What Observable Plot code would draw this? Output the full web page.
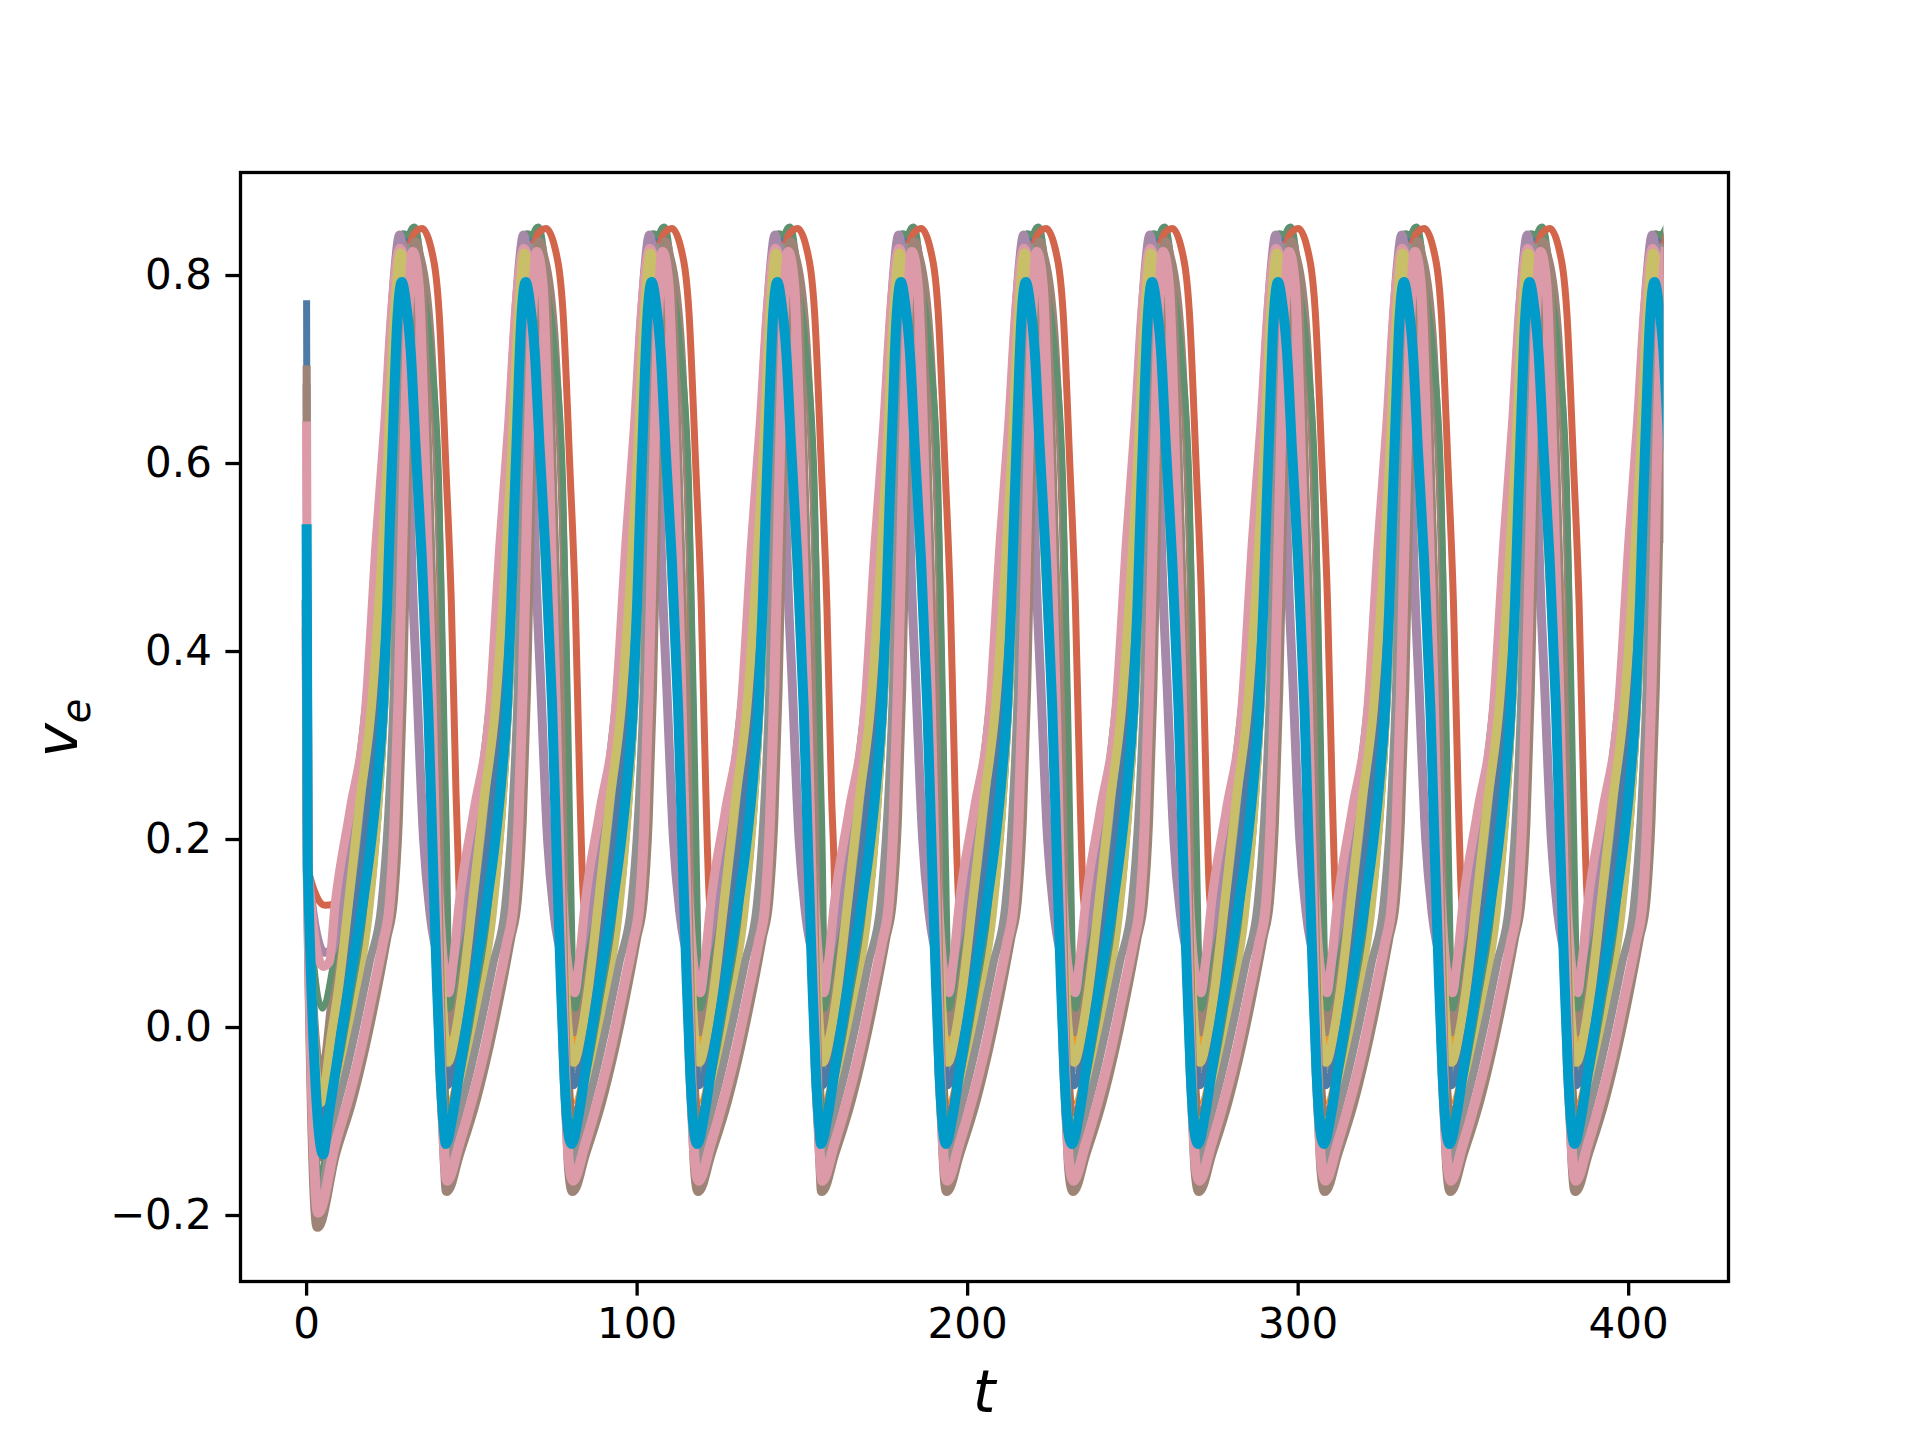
<!DOCTYPE html>
<html>
<head>
<meta charset="utf-8">
<script src="https://cdn.jsdelivr.net/npm/d3@7"></script>
<script src="https://cdn.jsdelivr.net/npm/@observablehq/plot@0.6"></script>
<style>
  html, body { margin: 0; padding: 0; background: #ffffff; }
  #chart { width: 1920px; height: 1440px; }
</style>
</head>
<body>
<div id="chart"></div>
<script>
// ---- data ----
// times of the cycle minima (start of each oscillation cycle)
const cycleStarts = [4.6, 42.1, 80.2, 118.2, 155.6, 193.4, 231.6, 269.7, 307.8, 345.8, 383.6];
const tEnd = 410.5;
const xTicks = [0, 100, 200, 300, 400];
const yTicks = [-0.2, 0.0, 0.2, 0.4, 0.6, 0.8];

// one cycle of each series: [time after cycle start, v_e]
const blueThinCycle    = [[0.4,-0.11],[4,-0.07],[8,-0.01],[12,0.07],[16,0.16],[19,0.3],[21.5,0.5],[23.5,0.7],[25.5,0.82],[27.5,0.84],[29.5,0.74],[31.5,0.55],[33.5,0.32],[35.5,0.08],[37,-0.07]];
const orangeThinCycle  = [[0.5,-0.08],[4,-0.03],[7.5,0.05],[11.5,0.16],[15.5,0.3],[18.5,0.45],[21,0.62],[23,0.76],[25,0.835],[27.5,0.8],[30.5,0.62],[33.5,0.36],[35.8,0.1],[37.3,-0.04]];
const redMidCycle      = [[0.5,-0.092],[3.5,-0.05],[6,0.0],[11,0.13],[14.5,0.25],[17,0.36],[19.5,0.52],[21.5,0.66],[23.5,0.78],[26,0.845],[28.5,0.82],[31,0.68],[33.5,0.45],[35.5,0.2],[37,0.0]];
const greenDeepCycle   = [[0.1,-0.133],[3,-0.09],[6.5,-0.03],[10,0.04],[14,0.13],[17,0.24],[19.5,0.38],[21.5,0.55],[23.5,0.72],[25.5,0.82],[27.9,0.851],[30,0.8],[32,0.62],[34,0.4],[35.5,0.17],[36.7,-0.02],[37.5,-0.11]];
const grayMidCycle     = [[0.6,-0.044],[3,-0.015],[5,0.03],[8.5,0.13],[12,0.23],[15.5,0.34],[18.5,0.5],[20.5,0.64],[22.5,0.77],[24.5,0.835],[27,0.82],[30,0.7],[33,0.48],[35.5,0.22],[37.3,0.02]];
const blueMidCycle     = [[0.6,-0.062],[3,-0.035],[5.5,0.01],[10,0.12],[13.5,0.22],[16.5,0.34],[19,0.5],[21,0.65],[23,0.78],[25.5,0.84],[28,0.81],[30.5,0.68],[33,0.45],[35.3,0.2],[37,0.01]];
const orangeMidCycle   = [[0.8,-0.021],[3,0.01],[5,0.06],[7.5,0.13],[11,0.23],[14.5,0.34],[17.5,0.5],[19.5,0.62],[21.5,0.76],[23.6,0.834],[26,0.81],[29,0.72],[32.5,0.55],[35.5,0.3],[37.4,0.06]];
const brownMidCycle    = [[0.8,-0.005],[3,0.03],[6.5,0.13],[10,0.23],[14,0.34],[17,0.48],[19,0.6],[21,0.72],[23.5,0.8],[27.5,0.835],[30.5,0.81],[33.5,0.7],[35.8,0.48],[37.3,0.17],[38.2,0.03]];
const greenShallowCycle= [[1,0.02],[3,0.06],[6,0.14],[10,0.25],[13.5,0.36],[16.5,0.5],[19,0.64],[21.5,0.78],[24.5,0.845],[27,0.84],[30,0.8],[33,0.72],[35.5,0.58],[37.2,0.3],[38.3,0.09]];
const redShallowCycle  = [[4.3,0.12],[6,0.135],[8,0.17],[11,0.25],[14,0.34],[17,0.46],[19.5,0.58],[22,0.7],[25,0.8],[28,0.845],[30.3,0.85],[33,0.83],[35.5,0.76],[37.5,0.6],[39.2,0.45],[40.6,0.25],[41.6,0.14]];
const oliveDeepCycle   = [[0.3,-0.14],[3.5,-0.095],[7,-0.04],[10.5,0.03],[14.5,0.12],[17.5,0.24],[20,0.4],[22,0.58],[23.8,0.75],[25.8,0.83],[27.8,0.8],[29.8,0.62],[31.8,0.4],[33.8,0.17],[35.5,-0.02],[36.8,-0.11]];
const grayDeepCycle    = [[0.3,-0.145],[3.5,-0.1],[7.5,-0.045],[11,0.01],[14.5,0.07],[18,0.13],[20,0.22],[21.8,0.36],[23.2,0.55],[24.6,0.74],[26.5,0.83],[28.3,0.79],[30.2,0.6],[32,0.38],[33.8,0.15],[35.5,-0.04],[36.8,-0.12]];
const pinkShallowCycle = [[0.9,0.037],[2.3,0.07],[4,0.13],[8.5,0.23],[13.3,0.34],[16.5,0.52],[19,0.64],[21.3,0.77],[23.6,0.829],[25.8,0.8],[27.8,0.7],[29.8,0.55],[32.2,0.38],[34.8,0.18],[36.8,0.07]];
const purpleCycle      = [[0.9,0.048],[2.8,0.08],[5.5,0.13],[9.5,0.23],[13.8,0.34],[16.5,0.46],[18.3,0.57],[20.5,0.72],[22.2,0.81],[23.5,0.843],[24.8,0.81],[26,0.68],[27,0.52],[28.8,0.36],[30.8,0.2],[32.8,0.12],[36,0.065]];
const oliveMidCycle    = [[0.6,-0.037],[3,-0.005],[5,0.04],[8,0.13],[11.5,0.24],[15,0.34],[17.8,0.48],[19.8,0.6],[22,0.76],[23.8,0.824],[25.8,0.78],[27.8,0.66],[30,0.5],[32.5,0.33],[35,0.15],[36.8,0.01]];
const brownDeepCycle   = [[0.3,-0.174],[4,-0.135],[9,-0.078],[13,-0.02],[16,0.03],[19.5,0.095],[21.5,0.135],[23,0.22],[24.3,0.36],[25.5,0.55],[26.8,0.74],[28.3,0.835],[30,0.8],[31.8,0.62],[33.5,0.4],[35,0.15],[36.3,-0.05],[37.3,-0.15]];
const pinkDeepCycle    = [[0.4,-0.163],[4,-0.125],[8.5,-0.07],[12,-0.02],[15,0.03],[18.5,0.09],[20.5,0.13],[22,0.22],[23.3,0.36],[24.6,0.55],[26,0.74],[27.5,0.825],[29.3,0.79],[31.2,0.6],[33,0.38],[34.6,0.15],[36,-0.04],[37.2,-0.14]];
const cyanCycle        = [[0,-0.124],[2,-0.095],[4,-0.05],[6,-0.005],[9,0.06],[12.3,0.13],[15,0.2],[17,0.27],[18.5,0.34],[19.8,0.45],[20.8,0.56],[21.8,0.66],[22.8,0.75],[24.2,0.793],[25.5,0.77],[26.9,0.72],[28.4,0.617],[30.3,0.497],[32.2,0.34],[33.6,0.18],[34.8,0.05],[35.9,-0.05],[37,-0.11]];

// drawing order: first listed is drawn first (bottom)
const seriesNames = ["blueThin","orangeThin","redMid","greenDeep","grayMid","blueMid","orangeMid","brownMid","greenShallow","redShallow","oliveDeep","grayDeep","purple","pinkShallow","oliveMid","brownDeep","pinkDeep","cyan"];
const seriesCycles = [blueThinCycle, orangeThinCycle, redMidCycle, greenDeepCycle, grayMidCycle, blueMidCycle, orangeMidCycle, brownMidCycle, greenShallowCycle, redShallowCycle, oliveDeepCycle, grayDeepCycle, purpleCycle, pinkShallowCycle, oliveMidCycle, brownDeepCycle, pinkDeepCycle, cyanCycle];
// value at t = 0 for each series
const startValues = [0.50, 0.33, 0.35, 0.48, 0.68, 0.77, 0.655, 0.70, 0.30, 0.25, 0.38, 0.40, 0.28, 0.64, 0.36, 0.45, 0.42, 0.53];
// end of the initial drop, common to all series
const dropPoint = [0.35, 0.17];
// first (transient) minimum of each series: [t, v_e]
const firstMinima = [[4.0,-0.15],[4.0,-0.13],[3.9,-0.14],[3.7,-0.17],[4.2,-0.09],[4.0,-0.10],[4.4,-0.07],[4.5,-0.05],[4.8,0.02],[5.6,0.13],[3.6,-0.18],[3.6,-0.185],[5.3,0.08],[5.0,0.065],[4.3,-0.08],[3.3,-0.212],[3.5,-0.197],[5.0,-0.135]];

// ---- styles ----
const seriesColors = ["#4e7aa6","#f5962d","#d3654b","#5f9070","#919191","#4e7aa6","#f5962d","#9e8477","#5f9070","#d3654b","#c9bf69","#919191","#a688a8","#dc9aa8","#c9bf69","#9e8477","#dc9aa8","#009bc9"];
const seriesWidths = [3, 3, 5, 8, 8, 7, 6, 8, 6, 7, 6, 8, 9, 9, 9, 10, 10, 10];

// ---- build the table ----
function buildSeries(i) {
  const rows = [];
  rows.push({t: 0, v: startValues[i]});
  rows.push({t: dropPoint[0], v: dropPoint[1]});
  rows.push({t: firstMinima[i][0], v: firstMinima[i][1]});
  let done = false;
  cycleStarts.forEach((c, k) => {
    if (done) return;
    seriesCycles[i].forEach((p, j) => {
      if (done) return;
      if (k === 0 && j === 0) return;
      const t = c + p[0];
      rows.push({t, v: p[1]});
      if (t > tEnd) done = true;
    });
  });
  return rows;
}

const lineMarks = seriesNames.map((name, i) =>
  Plot.line(buildSeries(i), {
    x: "t", y: "v",
    stroke: seriesColors[i],
    strokeWidth: seriesWidths[i],
    curve: "monotone-x",
    strokeLinejoin: "round",
    strokeLinecap: "square"
  })
);

const fmtY = d => d.toFixed(1).replace("-", "\u2212");

const plot = Plot.plot({
  width: 1920,
  height: 1440,
  marginLeft: 240,
  marginRight: 192,
  marginTop: 172,
  marginBottom: 159,
  x: {domain: [-20.0, 430.2]},
  y: {domain: [-0.2702, 0.9096]},
  style: {fontFamily: "DejaVu Sans", fontSize: "42px", color: "black", background: "white"},
  marks: [
    ...lineMarks,
    Plot.frame({stroke: "black", strokeWidth: 3.3}),
    Plot.axisX({ticks: xTicks, tickSize: 14.6, tickPadding: 12, strokeWidth: 3.3, fontSize: 42, label: null, tickFormat: d => String(d)}),
    Plot.axisY({ticks: yTicks, tickSize: 14.6, tickPadding: 14, strokeWidth: 3.3, fontSize: 42, label: null, tickFormat: fmtY})
  ]
});

document.getElementById("chart").appendChild(plot);

// clip the lines where the simulation stops
const svg = d3.select(plot);
const xEnd = plot.scale("x").apply(tEnd);
svg.insert("defs", ":first-child")
  .append("clipPath").attr("id", "endclip")
  .append("rect").attr("x", 0).attr("y", 0).attr("width", xEnd).attr("height", 1440);
svg.selectAll('g[aria-label="line"]').attr("clip-path", "url(#endclip)");

// axis titles
svg.append("text")
  .attr("x", 984).attr("y", 1412)
  .attr("text-anchor", "middle")
  .attr("font-family", "DejaVu Sans").attr("font-style", "italic").attr("font-size", 58)
  .attr("fill", "black")
  .text("t");
const yl = svg.append("text")
  .attr("transform", "translate(77,728) rotate(-90)")
  .attr("text-anchor", "middle")
  .attr("font-family", "DejaVu Sans").attr("font-style", "italic").attr("font-size", 58)
  .attr("fill", "black");
yl.append("tspan").text("v");
yl.append("tspan").attr("font-size", 40).attr("dy", 13).text("e");
</script>
</body>
</html>
